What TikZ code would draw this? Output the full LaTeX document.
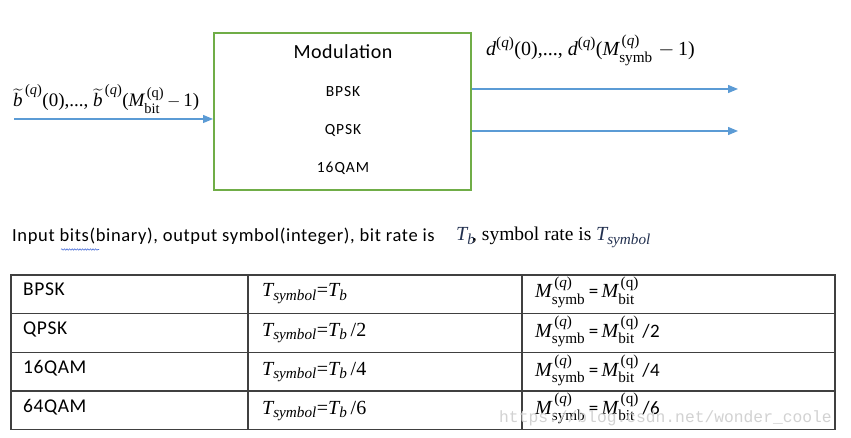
\documentclass[tikz,border=0pt]{standalone}
\usepackage{amsmath}
\usepackage{fontspec}
\setmainfont{Carlito}
\newfontfamily\tnr{Liberation Serif}
\newfontfamily\wmfont{Liberation Mono}
\usetikzlibrary{arrows.meta,decorations.pathmorphing}
\def\defaultscriptratio{.76}
\definecolor{boxgreen}{HTML}{70AD47}
\definecolor{arrblue}{HTML}{5B9BD5}
\definecolor{tblline}{HTML}{404040}
\definecolor{squiggle}{HTML}{4A6FD8}
\definecolor{navyT}{HTML}{22304F}
\newcommand{\iv}[1]{\text{\tnr\itshape #1}}
\newcommand{\rv}[1]{\text{\tnr\upshape #1}}
\newcommand{\qi}{^{\rv{(}\iv{q}\rv{)}}}
\newcommand{\qb}{^{\,\rv{(}\iv{q}\rv{)}}}
\newcommand{\qr}{^{\,\rv{(q)}}}
\newcommand{\Tsym}{\iv{T}_{\iv{symbol}}}
\newcommand{\Msym}{\iv{M}^{\,\rv{(}\iv{q}\rv{)}}_{\rv{symb}}}
\newcommand{\Mbit}{\iv{M}\qr_{\rv{bit}}}
\newcommand{\ceq}{\,\text{\rmfamily\fontsize{19}{22}\selectfont =}\,}
\newcommand{\cdiv}[1]{\,{\rmfamily\fontsize{19}{22}\selectfont\addfontfeatures{LetterSpace=3}/#1}}
\begin{document}
\begin{tikzpicture}[x=1pt,y=-1pt,
  arr/.style={draw=arrblue, line width=1.2pt, -{Triangle[length=10pt,width=8pt]}},
  lbl/.style={anchor=base west, inner sep=0pt},
  boxtxt/.style={anchor=base, inner sep=0pt, font=\fontsize{15.5}{18}\selectfont\addfontfeatures{LetterSpace=6}},
  modbox/.style={draw=boxgreen, line width=2pt, minimum width=257pt, minimum height=157pt, inner sep=0pt},
  cell/.style={anchor=base west, inner sep=0pt, font=\fontsize{19.5}{22}\selectfont\addfontfeatures{LetterSpace=3}},
  mcell/.style={anchor=base west, inner sep=0pt, font=\tnr\fontsize{20}{22}\selectfont},
  tline/.style={draw=tblline, line width=1.3pt}]
\useasboundingbox (0,0) rectangle (851,438);
\fill[white] (0,0) rectangle (851,438);

% modulation block
\node[modbox] (box) at (342.5,111.5) {};
\node[boxtxt, font=\fontsize{20}{24}\selectfont\addfontfeatures{LetterSpace=2.5}] (mod) at (343,59) {Modulation};
\node[boxtxt] (bpsk) at (343,97) {BPSK};
\node[boxtxt] (qpsk) at (343,135) {QPSK};
\node[boxtxt] (qam) at (343,173) {16QAM};

% input
\coordinate (in) at (14,119);
\draw[arr] (in) -- (in -| box.west);
\node[lbl, font=\tnr\fontsize{19}{20}\selectfont] (inlbl) at (13,107)
  {$\widetilde{\iv{b}}\qb$(0),..., $\widetilde{\iv{b}}\qb$($\Mbit\,-\,$1)};

% outputs
\coordinate (o1) at (738,89);
\coordinate (o2) at (738,131);
\draw[arr] (o1 -| box.east) -- (o1);
\draw[arr] (o2 -| box.east) -- (o2);
\node[lbl, font=\tnr\fontsize{20}{22}\selectfont] (outlbl) at (486,56)
  {$\iv{d}\qi$(0),..., $\iv{d}\qi$($\Msym\;-\,$1)};

% description line
\node[lbl, font=\fontsize{18.5}{20}\selectfont\addfontfeatures{LetterSpace=3.5}] (desc) at (12,242)
  {Input bits(binary), output symbol(integer), bit rate is};
\node[lbl, font=\tnr\fontsize{20}{22}\selectfont, text=navyT] (tb) at (456,241) {$\iv{T}_{\iv{b}}$};
\node[lbl, font=\tnr\fontsize{19.5}{22}\selectfont] (srate) at (472,241) {, symbol rate is};
\node[lbl, font=\tnr\fontsize{20}{22}\selectfont, text=navyT] (tsym) at (596,241) {$\Tsym$};
\draw[squiggle, line width=0.6pt, decorate, decoration={snake, amplitude=0.7pt, segment length=2.6pt}] (61,249.5) -- (99,249.5);

% table
\draw[tline] (11,275) rectangle (835,429.5);
\draw[tline] (11,313.5) -- (835,313.5);
\draw[tline] (11,352.5) -- (835,352.5);
\draw[tline] (11,391) -- (835,391);
\draw[tline] (248,275) -- (248,429.5);
\draw[tline] (522,275) -- (522,429.5);

\node[cell] (c11) at (23,295) {BPSK};
\node[cell] (c21) at (23,334) {QPSK};
\node[cell] (c31) at (23,373) {16QAM};
\node[cell] (c41) at (23,412) {64QAM};

\node[mcell] (c12) at (262,297) {$\Tsym\rv{=}\iv{T}_{\iv{b}}$};
\node[mcell] (c22) at (262,336) {$\Tsym\rv{=}\iv{T}_{\iv{b}}$\,/2};
\node[mcell] (c32) at (262,375) {$\Tsym\rv{=}\iv{T}_{\iv{b}}$\,/4};
\node[mcell] (c42) at (262,414) {$\Tsym\rv{=}\iv{T}_{\iv{b}}$\,/6};

\node[mcell] (c13) at (535,298) {$\Msym\ceq\Mbit$};
\node[mcell] (c23) at (535,337) {$\Msym\ceq\Mbit$\cdiv{2}};
\node[mcell] (c33) at (535,376) {$\Msym\ceq\Mbit$\cdiv{4}};
\node[mcell] (c43) at (535,414) {$\Msym\ceq\Mbit$\cdiv{6}};

% watermark
\node[lbl, font=\wmfont\fontsize{16.3}{18}\selectfont, text=gray!35] (wm) at (499,422) {https://blog.csdn.net/wonder\_coole};
\end{tikzpicture}
\end{document}
